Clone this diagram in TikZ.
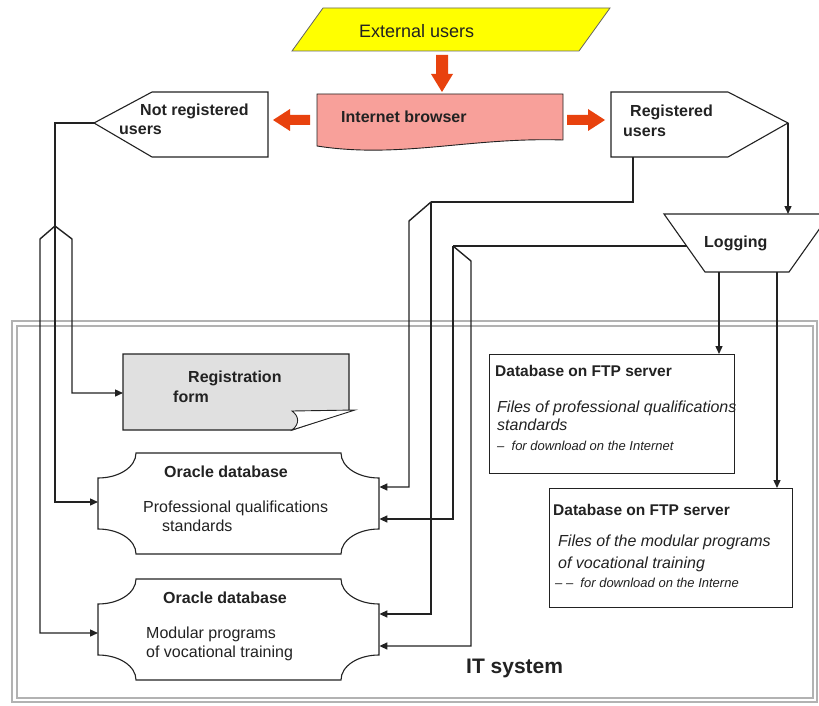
\documentclass[tikz,border=0pt]{standalone}
\usepackage{fontspec}
\setmainfont{Liberation Sans}
\usetikzlibrary{arrows.meta}
\definecolor{ink}{HTML}{222222}
\definecolor{framegray}{HTML}{B2B2B2}
\definecolor{flow}{HTML}{E8420E}
\definecolor{browserfill}{HTML}{F8A09A}
\definecolor{formfill}{HTML}{E0E0E0}
\definecolor{userfill}{HTML}{FFFF00}
\begin{document}
\begin{tikzpicture}[x=1pt,y=-1pt,
  txt/.style={anchor=base west,inner sep=0pt,text=ink,font=\fontsize{16}{19}\selectfont},
  btxt/.style={txt,font=\fontsize{16}{19}\selectfont\bfseries},
  itxt/.style={txt,font=\fontsize{16}{19}\selectfont\itshape},
  stxt/.style={txt,font=\fontsize{13}{16}\selectfont\itshape},
  outline/.style={draw=ink,line width=1.1pt},
  frame/.style={draw=framegray,line width=2.2pt},
  conn/.style={draw=ink,line width=1.4pt},
  arr/.style={conn,-{Triangle[length=8pt,width=7pt]}},
  blockarrow/.style={fill=flow,draw=none},
  box/.style={outline,fill=white,inner sep=0pt,anchor=north west},
  anchorbox/.style={inner sep=0pt,anchor=north west}]
\clip (0,0) rectangle (819,706);
\fill[white] (0,0) rectangle (819,706);

% IT system frame (double grey border)
\draw[frame] (12,321) rectangle (817,702);
\draw[frame] (17,326) rectangle (813,698);
\node[txt,font=\fontsize{21}{25}\selectfont\bfseries] (itsys) at (466,673) {IT system};

% External users
\draw[draw=ink!70,line width=0.8pt,fill=userfill] (323,8) -- (610,8) -- (579,51) -- (292,51) -- cycle;
\node[txt,font=\fontsize{18}{22}\selectfont] (ext) at (359,38) {External users};

% Internet browser (document shape)
\draw[outline,line width=0.9pt,fill=browserfill] (317,94) -- (563,94) -- (563,140)
  .. controls (470,137) and (400,159) .. (317,146) -- cycle;
\node[btxt] (browser) at (341,123) {Internet browser};

% block arrows
\fill[blockarrow] (436,55) -- (448,55) -- (448,74) -- (453,74) -- (442,92) -- (431,74) -- (436,74) -- cycle;
\fill[blockarrow] (310,115) -- (290,115) -- (290,109) -- (273,120) -- (290,131) -- (290,125) -- (310,125) -- cycle;
\fill[blockarrow] (567,115) -- (588,115) -- (588,109) -- (605,120) -- (588,131) -- (588,125) -- (567,125) -- cycle;

% Not registered users
\draw[outline,fill=white] (94,123) -- (152,92) -- (268,92) -- (268,157) -- (152,157) -- cycle;
\node[btxt] (notreg1) at (140,116) {Not registered};
\node[btxt] (notreg2) at (119,135) {users};
\coordinate (nrTip) at (94,123);

% Registered users
\draw[outline,fill=white] (611,92) -- (728,92) -- (788,123) -- (728,157) -- (611,157) -- cycle;
\node[btxt] (reg1) at (630,117) {Registered};
\node[btxt] (reg2) at (623,136) {users};
\coordinate (regTip) at (788,123);
\coordinate (regBot) at (633,157);

% Logging
\draw[outline,fill=white] (664,214) -- (830,214) -- (789,272) -- (705,272) -- cycle;
\node[btxt] (logging) at (704,247) {Logging};
\coordinate (logTop) at (788,214);
\coordinate (logLeft) at (687,246);
\coordinate (logB1) at (719,272);
\coordinate (logB2) at (777,272);

% Registration form with folded corner
\draw[outline,fill=formfill] (123,354) -- (349,354) -- (349,411) -- (292,430) -- (123,430) -- cycle;
\draw[outline,line width=0.9pt,fill=white] (292,430) .. controls (300,424) and (299,416) .. (292,411)
  -- (355,410) -- cycle;
\node[anchorbox,minimum width=226pt,minimum height=76pt] (form) at (123,354) {};
\node[btxt] (form1) at (188,382) {Registration};
\node[btxt] (form2) at (173,402) {form};

% Oracle databases (scalloped corners)
\draw[outline,fill=white] (136,453) -- (341,453) .. controls (341,467) and (358,478) .. (379,478)
  -- (379,529) .. controls (358,529) and (341,540) .. (341,554)
  -- (136,554) .. controls (136,540) and (119,529) .. (98,529)
  -- (98,478) .. controls (119,478) and (136,467) .. (136,453) -- cycle;
\node[anchorbox,minimum width=281pt,minimum height=101pt] (oraA) at (98,453) {};
\node[btxt] (oraA1) at (164,477) {Oracle database};
\node[txt] (oraA2) at (143,512) {Professional qualifications};
\node[txt] (oraA3) at (162,531) {standards};

\draw[outline,fill=white] (136,579) -- (341,579) .. controls (341,593) and (358,604) .. (379,604)
  -- (379,655) .. controls (358,655) and (341,666) .. (341,680)
  -- (136,680) .. controls (136,666) and (119,655) .. (98,655)
  -- (98,604) .. controls (119,604) and (136,593) .. (136,579) -- cycle;
\node[anchorbox,minimum width=281pt,minimum height=101pt] (oraB) at (98,579) {};
\node[btxt] (oraB1) at (163,603) {Oracle database};
\node[txt] (oraB2) at (146,638) {Modular programs};
\node[txt] (oraB3) at (146,657) {of vocational training};

% FTP server databases
\node[box,minimum width=245pt,minimum height=119pt] (ftpA) at (489,354) {};
\node[btxt,font=\fontsize{15.5}{19}\selectfont\bfseries] (ftpA1) at (495,376) {Database on FTP server};
\node[itxt] (ftpA2) at (497,412) {Files of professional qualifications};
\node[itxt] (ftpA3) at (497,430) {standards};
\node[stxt] (ftpA4) at (497,450) {–\ \ for download on the Internet};

\node[box,minimum width=243pt,minimum height=119pt] (ftpB) at (549,488) {};
\node[btxt,font=\fontsize{15.5}{19}\selectfont\bfseries] (ftpB1) at (553,515) {Database on FTP server};
\node[itxt] (ftpB2) at (558,546) {Files of the modular programs};
\node[itxt] (ftpB3) at (558,568) {of vocational training};
\node[stxt] (ftpB4) at (555,587) {– –\ \ for download on the Interne};

% connectors from not registered users
\draw[conn] (nrTip) -- (55,123) -- (55,226) coordinate (nrSplit);
\draw[arr] (nrSplit) -- (55,502) -- (oraA.west |- 0,502);
\draw[arr] (nrSplit) -- (40,239) -- (40,633) -- (oraB.west |- 0,633);
\draw[arr] (nrSplit) -- (72,239) -- (72,393) -- (form.west |- 0,393);

% connectors from registered users
\draw[conn] (regBot) -- (633,202) -- (431,202) coordinate (regSplit);
\draw[arr] (regSplit) -- (409,221) -- (409,487) -- (oraA.east |- 0,487);
\draw[arr] (regSplit) -- (431,614) -- (oraB.east |- 0,614);
\draw[arr] (regTip) -- (logTop);

% connectors from logging
\draw[conn] (logLeft) -- (453,246) coordinate (logSplit);
\draw[arr] (logSplit) -- (453,519) -- (oraA.east |- 0,519);
\draw[arr] (logSplit) -- (471,261) -- (471,646) -- (oraB.east |- 0,646);
\draw[arr] (logB1) -- (logB1 |- ftpA.north);
\draw[arr] (logB2) -- (logB2 |- ftpB.north);
\end{tikzpicture}
\end{document}
